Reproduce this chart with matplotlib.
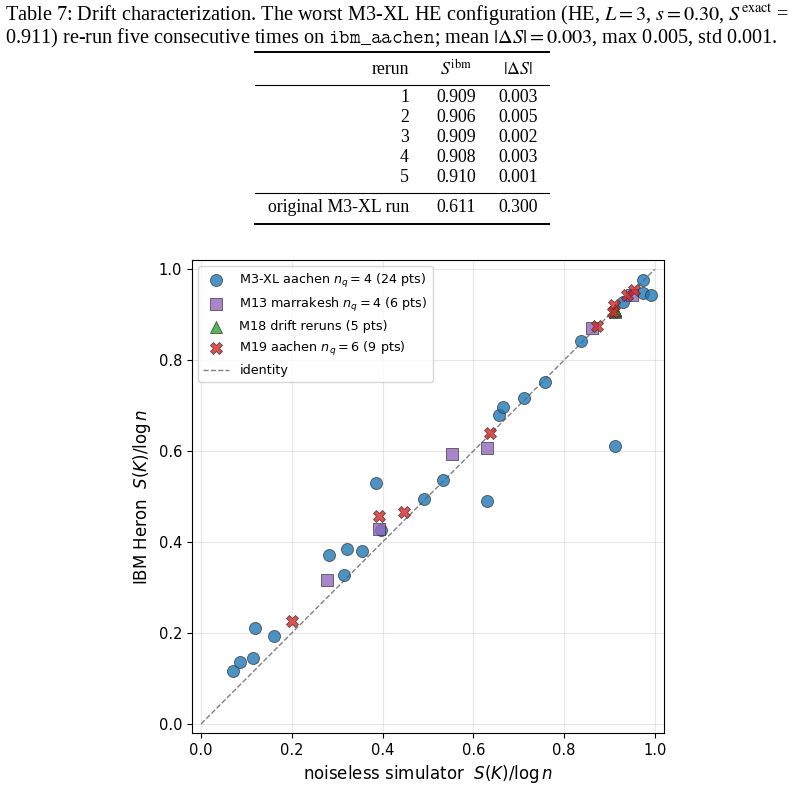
import numpy as np
import matplotlib.pyplot as plt

# M3-XL aachen, n_q = 4 (24 pts)
m3_sim = [0.070, 0.085, 0.115, 0.118, 0.160, 0.281, 0.314, 0.321, 0.355, 0.385, 0.396, 0.491,
          0.532, 0.629, 0.911, 0.657, 0.666, 0.711, 0.758, 0.838, 0.929, 0.974, 0.974, 0.992]
m3_ibm = [0.117, 0.136, 0.145, 0.210, 0.193, 0.371, 0.327, 0.384, 0.381, 0.530, 0.426, 0.495,
          0.537, 0.490, 0.611, 0.680, 0.697, 0.717, 0.752, 0.841, 0.927, 0.976, 0.947, 0.942]

# M13 marrakesh, n_q = 4 (6 pts)
m13_sim = [0.278, 0.392, 0.552, 0.629, 0.861, 0.949]
m13_ibm = [0.317, 0.429, 0.594, 0.607, 0.871, 0.943]

# M18 drift reruns (5 pts)
rerun = [1, 2, 3, 4, 5]
s_exact = 0.911
s_ibm = [0.909, 0.906, 0.909, 0.908, 0.910]
d_s = [0.003, 0.005, 0.002, 0.003, 0.001]
orig_ibm, orig_ds = 0.611, 0.300

# M19 aachen, n_q = 6 (9 pts)
m19_sim = [0.200, 0.391, 0.447, 0.637, 0.872, 0.910, 0.908, 0.938, 0.955]
m19_ibm = [0.226, 0.457, 0.467, 0.639, 0.875, 0.922, 0.905, 0.944, 0.955]

W, H = 803, 788
fig = plt.figure(figsize=(W / 100, H / 100), dpi=100)

def fx(px):
    return px / W

def fy(py):
    return 1 - py / H

serif = 'Liberation Serif'

#Caption
cap = dict(family=serif, fontsize=14.6, va='center', ha='left', math_fontfamily='stix')
fig.text(fx(5), fy(15), r"Table 7: Drift characterization. The worst M3-XL HE configuration (HE, $L = 3$, $s = 0.30$, $S^{\mathrm{exact}}$ =", **cap)
fig.text(fx(5), fy(38), r"0.911) re-run five consecutive times on $\mathtt{ibm\_aachen}$; mean $|\Delta S| = 0.003$, max 0.005, std 0.001.", **cap)

#Table
x0, x1 = 255, 549
fig.add_artist(plt.Line2D([fx(x0), fx(x1)], [fy(52), fy(52)], color='k', lw=1.4))
fig.add_artist(plt.Line2D([fx(x0), fx(x1)], [fy(85), fy(85)], color='k', lw=0.8))
fig.add_artist(plt.Line2D([fx(x0), fx(x1)], [fy(193), fy(193)], color='k', lw=0.8))
fig.add_artist(plt.Line2D([fx(x0), fx(x1)], [fy(224), fy(224)], color='k', lw=1.4))

tk = dict(family=serif, fontsize=12.8, va='center', math_fontfamily='stix')
fig.text(fx(409), fy(69), "rerun", ha='right', **tk)
fig.text(fx(456), fy(69), r"$S^{\mathrm{ibm}}$", ha='center', **tk)
fig.text(fx(518), fy(69), r"$|\Delta S|$", ha='center', **tk)
for i, (r, s, d) in enumerate(zip(rerun, s_ibm, d_s)):
    y = 98 + 20 * i
    fig.text(fx(409), fy(y), str(r), ha='right', **tk)
    fig.text(fx(456), fy(y), "%.3f" % s, ha='center', **tk)
    fig.text(fx(518), fy(y), "%.3f" % d, ha='center', **tk)
fig.text(fx(409), fy(208), "original M3-XL run", ha='right', **tk)
fig.text(fx(456), fy(208), "%.3f" % orig_ibm, ha='center', **tk)
fig.text(fx(518), fy(208), "%.3f" % orig_ds, ha='center', **tk)

#Scatter
ax = fig.add_axes([fx(192), 1 - 733 / H, (664 - 192) / W, (733 - 260) / H])
kw = dict(s=75, edgecolors='#333333', linewidths=0.6, alpha=0.8, zorder=3)
ax.scatter(m3_sim, m3_ibm, marker='o', color='#1f77b4', label=r'M3-XL aachen $n_q = 4$ (24 pts)', **kw)
ax.scatter(m13_sim, m13_ibm, marker='s', color='#9467bd', label=r'M13 marrakesh $n_q = 4$ (6 pts)', **kw)
ax.scatter([s_exact] * len(s_ibm), s_ibm, marker='^', color='#2ca02c', label='M18 drift reruns (5 pts)', **kw)
ax.scatter(m19_sim, m19_ibm, marker='X', color='#d62728', label=r'M19 aachen $n_q = 6$ (9 pts)', **kw)
ax.plot([0, 1], [0, 1], '--', color='gray', lw=1, label='identity', zorder=2)

ax.set_xlim(-0.02, 1.02)
ax.set_ylim(-0.02, 1.02)
ax.grid(alpha=0.3)
ax.tick_params(labelsize=10.5)
ax.set_xlabel(r'noiseless simulator  $S(K)/\log n$', fontsize=12)
ax.set_ylabel(r'IBM Heron  $S(K)/\log n$', fontsize=12)
ax.legend(loc='upper left', fontsize=9.2)

fig.savefig('out.png', dpi=100)
